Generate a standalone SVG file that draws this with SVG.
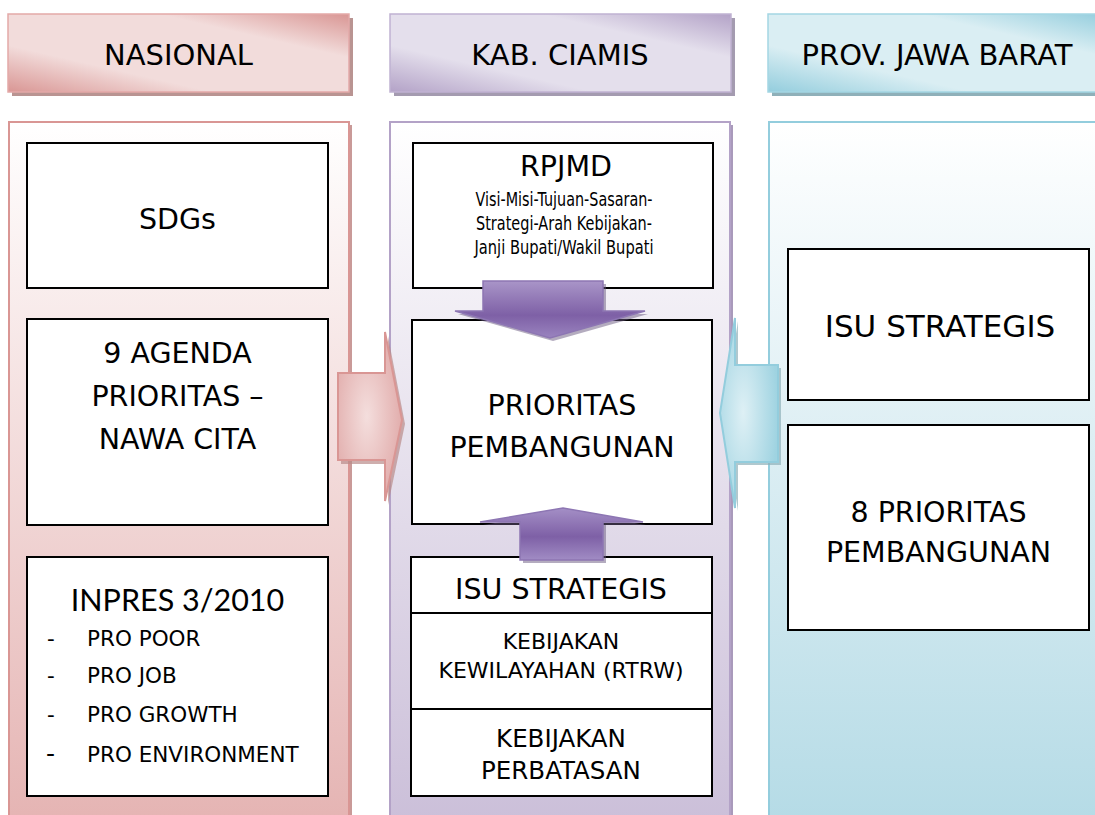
<svg xmlns="http://www.w3.org/2000/svg" width="1095" height="815" viewBox="0 0 1095 815">
  <defs>
    <!-- column header fills: diagonal sheen -->
    <linearGradient id="hdrPink" x1="0" y1="1" x2="1" y2="0">
      <stop offset="0" stop-color="#d99694"/>
      <stop offset="0.3" stop-color="#f2dcdb"/>
      <stop offset="0.72" stop-color="#f2dcdb"/>
      <stop offset="1" stop-color="#d99694"/>
    </linearGradient>
    <linearGradient id="hdrPurple" x1="0" y1="1" x2="1" y2="0">
      <stop offset="0" stop-color="#b3a2c7"/>
      <stop offset="0.3" stop-color="#e4dfec"/>
      <stop offset="0.72" stop-color="#e4dfec"/>
      <stop offset="1" stop-color="#b3a2c7"/>
    </linearGradient>
    <linearGradient id="hdrBlue" x1="0" y1="1" x2="1" y2="0">
      <stop offset="0" stop-color="#93cddd"/>
      <stop offset="0.3" stop-color="#daeef3"/>
      <stop offset="0.72" stop-color="#daeef3"/>
      <stop offset="1" stop-color="#93cddd"/>
    </linearGradient>
    <!-- column bodies: white at top, tinted at bottom -->
    <linearGradient id="colPink" x1="0" y1="0" x2="0" y2="1">
      <stop offset="0" stop-color="#ffffff"/>
      <stop offset="1" stop-color="#e5b4b3"/>
    </linearGradient>
    <linearGradient id="colPurple" x1="0" y1="0" x2="0" y2="1">
      <stop offset="0" stop-color="#ffffff"/>
      <stop offset="1" stop-color="#cbbfd9"/>
    </linearGradient>
    <linearGradient id="colBlue" x1="0" y1="0" x2="0" y2="1">
      <stop offset="0" stop-color="#ffffff"/>
      <stop offset="1" stop-color="#b5dbe6"/>
    </linearGradient>
    <!-- arrow fills -->
    <radialGradient id="arrPink" cx="0.45" cy="0.5" r="0.6">
      <stop offset="0" stop-color="#f4dedd"/>
      <stop offset="1" stop-color="#e0a9a8"/>
    </radialGradient>
    <radialGradient id="arrBlue" cx="0.4" cy="0.5" r="0.6">
      <stop offset="0" stop-color="#def0f5"/>
      <stop offset="1" stop-color="#9fd3e1"/>
    </radialGradient>
    <linearGradient id="arrPurpleDown" x1="0" y1="0" x2="0" y2="1">
      <stop offset="0" stop-color="#a995c8"/>
      <stop offset="0.6" stop-color="#7e60a6"/>
      <stop offset="1" stop-color="#9a84bf"/>
    </linearGradient>
    <linearGradient id="arrPurpleUp" x1="0" y1="0" x2="0" y2="1">
      <stop offset="0" stop-color="#a48fc6"/>
      <stop offset="0.55" stop-color="#7e60a6"/>
      <stop offset="1" stop-color="#a18cc4"/>
    </linearGradient>
  </defs>
  <style>
    text { font-family: "DejaVu Sans", Verdana, sans-serif; fill: #000; text-anchor: middle; }
    .big { font-size: 28.5px; }
    .sub { font-size: 20px; }
    .mid { font-size: 22px; }
    .cal { font-family: Lato, "Open Sans", sans-serif; }
    .box { fill: #ffffff; stroke: #000; stroke-width: 2; }
    .hdrtxt { font-size: 29px; }
  </style>

  <rect width="1095" height="815" fill="#ffffff"/>

  <!-- column bodies -->
  <g id="col-nasional">
    <rect x="12" y="125" width="340" height="700" fill="#c99a98"/>
    <rect x="9" y="122" width="340" height="700" fill="url(#colPink)" stroke="#d99694" stroke-width="2"/>
  </g>
  <g id="col-ciamis">
    <rect x="393" y="125" width="340" height="700" fill="#a99abb"/>
    <rect x="390" y="122" width="340" height="700" fill="url(#colPurple)" stroke="#b3a2c7" stroke-width="2"/>
  </g>
  <g id="col-jabar">
    <rect x="769" y="122" width="340" height="700" fill="url(#colBlue)" stroke="#93cddd" stroke-width="2"/>
  </g>

  <!-- column headers -->
  <g id="hdr-nasional">
    <rect x="12" y="18" width="341" height="78" fill="#b99492"/>
    <rect x="8" y="14" width="341" height="78" fill="url(#hdrPink)" stroke="#e3a9a8" stroke-width="1.5"/>
    <text class="hdrtxt" x="178.5" y="65">NASIONAL</text>
  </g>
  <g id="hdr-ciamis">
    <rect x="394" y="18" width="341" height="78" fill="#a49bb0"/>
    <rect x="390" y="14" width="341" height="78" fill="url(#hdrPurple)" stroke="#c0b2d2" stroke-width="1.5"/>
    <text class="hdrtxt" x="560" y="65">KAB. CIAMIS</text>
  </g>
  <g id="hdr-jabar">
    <rect x="772" y="18" width="341" height="78" fill="#8fb0b9"/>
    <rect x="768" y="14" width="341" height="78" fill="url(#hdrBlue)" stroke="#a4d6e3" stroke-width="1.5"/>
    <text class="hdrtxt" x="937" y="65">PROV. JAWA BARAT</text>
  </g>

  <!-- NASIONAL nodes -->
  <g id="sdgs">
    <rect class="box" x="27" y="143" width="301" height="145"/>
    <text class="big" x="177.5" y="229">SDGs</text>
  </g>
  <g id="nawa-cita">
    <rect class="box" x="27" y="319" width="301" height="206"/>
    <text class="big" x="177.5" y="363">9 AGENDA</text>
    <text class="big" x="177.5" y="406">PRIORITAS –</text>
    <text class="big" x="177.5" y="449">NAWA CITA</text>
  </g>
  <g id="inpres">
    <rect class="box" x="27" y="557" width="301" height="239"/>
    <text class="cal" x="177.5" y="611" font-size="30.5">INPRES 3/2010</text>
    <g class="cal" font-size="21.5">
      <text x="47" y="646" style="text-anchor:start">-</text>
      <text x="87" y="646" style="text-anchor:start">PRO POOR</text>
      <text x="47" y="683" style="text-anchor:start">-</text>
      <text x="87" y="683" style="text-anchor:start">PRO JOB</text>
      <text x="47" y="722" style="text-anchor:start">-</text>
      <text x="87" y="722" style="text-anchor:start">PRO GROWTH</text>
      <text x="46" y="762" font-size="25" style="text-anchor:start">-</text>
      <text x="87" y="762" style="text-anchor:start">PRO ENVIRONMENT</text>
    </g>
  </g>

  <!-- KAB. CIAMIS nodes -->
  <g id="rpjmd">
    <rect class="box" x="413" y="143" width="300" height="145"/>
    <text class="big" x="566" y="176">RPJMD</text>
    <text class="sub" x="564" y="206" textLength="177" lengthAdjust="spacingAndGlyphs">Visi-Misi-Tujuan-Sasaran-</text>
    <text class="sub" x="564" y="230" textLength="176" lengthAdjust="spacingAndGlyphs">Strategi-Arah Kebijakan-</text>
    <text class="sub" x="564" y="254" textLength="179" lengthAdjust="spacingAndGlyphs">Janji Bupati/Wakil Bupati</text>
  </g>
  <g id="prioritas-kab">
    <rect class="box" x="412" y="320" width="300" height="204"/>
    <text class="big" x="562" y="415">PRIORITAS</text>
    <text class="big" x="562" y="457">PEMBANGUNAN</text>
  </g>
  <g id="isu-kab">
    <rect class="box" x="411" y="557" width="301" height="239"/>
    <line x1="411" y1="613" x2="712" y2="613" stroke="#000" stroke-width="2"/>
    <line x1="411" y1="709" x2="712" y2="709" stroke="#000" stroke-width="2"/>
    <text class="big" x="561" y="599">ISU STRATEGIS</text>
    <text class="mid" x="561" y="649">KEBIJAKAN</text>
    <text class="mid" x="561" y="678">KEWILAYAHAN (RTRW)</text>
    <text x="561" y="747" font-size="24.5">KEBIJAKAN</text>
    <text x="561" y="779" font-size="24.5">PERBATASAN</text>
  </g>

  <!-- PROV. JAWA BARAT nodes -->
  <g id="isu-jabar">
    <rect class="box" x="788" y="249" width="301" height="151"/>
    <text x="940" y="337" font-size="31">ISU STRATEGIS</text>
  </g>
  <g id="prioritas-jabar">
    <rect class="box" x="788" y="425" width="301" height="205"/>
    <text class="big" x="938.5" y="522">8 PRIORITAS</text>
    <text class="big" x="938.5" y="562">PEMBANGUNAN</text>
  </g>

  <!-- connectors: block arrows -->
  <g id="connectors">
    <!-- NASIONAL into priorities -->
    <polygon points="341,377 388,377 388,336 405,424 388,505 388,464 341,464" fill="#b98b8a" opacity="0.7"/>
    <polygon points="338,373 385,373 385,332 402,420 385,501 385,460 338,460" fill="url(#arrPink)" stroke="#d99694" stroke-width="2"/>
    <!-- JAWA BARAT into priorities -->
    <polygon points="781,368 781,465 738,465 738,511 723,416 738,321 738,368" fill="#8fb0b9" opacity="0.7"/>
    <polygon points="778,365 778,462 735,462 735,508 720,413 735,318 735,365" fill="url(#arrBlue)" stroke="#93cddd" stroke-width="2"/>
    <!-- RPJMD down into priorities -->
    <polygon points="486,284 606,284 606,314 648,314 553,341 458,314 486,314" fill="#6a5a80" opacity="0.5"/>
    <polygon points="483,281 603,281 603,311 645,311 550,338 455,311 483,311" fill="url(#arrPurpleDown)" stroke="#8d76b3" stroke-width="1.5"/>
    <!-- strategic issues up into priorities -->
    <polygon points="523,563 606,563 606,525 646,525 566,511 483,525 523,525" fill="#6a5a80" opacity="0.5"/>
    <polygon points="520,560 603,560 603,522 643,522 563,508 480,522 520,522" fill="url(#arrPurpleUp)" stroke="#8d76b3" stroke-width="1.5"/>
  </g>
</svg>
